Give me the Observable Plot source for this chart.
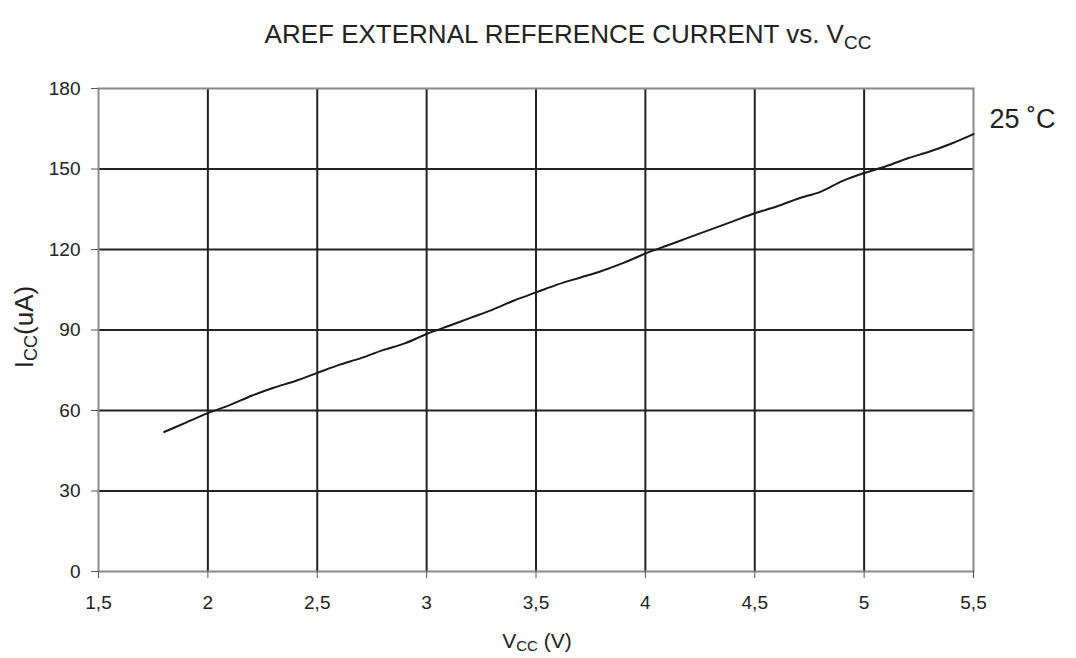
<!DOCTYPE html>
<html>
<head>
<meta charset="utf-8">
<script src="https://cdn.jsdelivr.net/npm/d3@7"></script>
<script src="https://cdn.jsdelivr.net/npm/@observablehq/plot@0.6"></script>
<style>
  html, body { margin: 0; padding: 0; background: #fff; }
  #title { height: 60px; width: 1076px; position: relative; font-family: "Liberation Sans", Arial, sans-serif; color: #222; }
  #title .t { position: absolute; left: 30px; width: 1076px; text-align: center; top: 19px; font-size: 26px; line-height: 30px; white-space: nowrap; }
  #title sub { font-size: 19px; vertical-align: -6px; line-height: 0; }
</style>
</head>
<body>
<div id="title"><div class="t">AREF EXTERNAL REFERENCE CURRENT vs. V<sub>CC</sub></div></div>
<div id="chart"></div>
<script>
const vcc = [1.8,1.9,2.0,2.1,2.2,2.3,2.4,2.5,2.6,2.7,2.8,2.9,3.0,3.1,3.2,3.3,3.4,3.5,3.6,3.7,3.8,3.9,4.0,4.1,4.2,4.3,4.4,4.5,4.6,4.7,4.8,4.9,5.0,5.1,5.2,5.3,5.4,5.5];
const icc = [52,55.5,59,62,65.5,68.5,71,74,77,79.5,82.5,85,88.5,91.5,94.5,97.5,101,104,107,109.5,112,115,118.5,121.5,124.5,127.5,130.5,133.5,136,139,141.5,145.5,148.5,151,154,156.5,159.5,163];
const xTicks = [1.5,2,2.5,3,3.5,4,4.5,5,5.5];
const yTicks = [0,30,60,90,120,150,180];
const seriesLabel = ["25 ˚C"];

const data = vcc.map((v, i) => ({v, i: icc[i]}));
const fmt = d => String(d).replace(".", ",");
const last = data[data.length - 1];

const W = 1076, H = 598;
const plot = Plot.plot({
  width: W, height: H,
  marginLeft: 98, marginRight: 103, marginTop: 28, marginBottom: 87,
  style: {fontFamily: "'Liberation Sans', Arial, sans-serif", fontSize: "19px", color: "#222", background: "#fff"},
  x: {domain: [1.5, 5.5], ticks: xTicks, tickFormat: fmt, label: null},
  y: {domain: [0, 180], ticks: yTicks, label: null},
  marks: [
    Plot.ruleX(xTicks.slice(1, -1), {stroke: "#222", strokeWidth: 2}),
    Plot.ruleY(yTicks.slice(1, -1), {stroke: "#222", strokeWidth: 2}),
    Plot.frame({stroke: "#8a8a8a", strokeWidth: 2}),
    Plot.axisX({ticks: xTicks, tickFormat: fmt, tickSize: 7, tickPadding: 17, stroke: "#555"}),
    Plot.axisY({ticks: yTicks, tickSize: 7, tickPadding: 11, stroke: "#555"}),
    Plot.line(data, {x: "v", y: "i", stroke: "#1a1a1a", strokeWidth: 2, curve: "monotone-x"}),
    Plot.text(seriesLabel, {x: () => last.v, y: () => last.i, text: d => d, dx: 16, dy: -15, textAnchor: "start", fontSize: 27, fill: "#222"})
  ]
});
document.getElementById("chart").appendChild(plot);

const svg = d3.select(plot);
svg.selectAll('g[aria-label="x-axis tick label"], g[aria-label="y-axis tick label"]').attr("font-size", 19);

// axis labels with subscripts
const xl = svg.append("text")
  .attr("x", 537).attr("y", 648 - 60)
  .attr("text-anchor", "middle")
  .attr("font-size", 21).attr("fill", "#222");
xl.append("tspan").text("V");
xl.append("tspan").attr("font-size", 15).attr("dy", 3).text("CC");
xl.append("tspan").attr("dy", -3).text(" (V)");

const yl = svg.append("text")
  .attr("transform", `translate(33, ${327 - 60}) rotate(-90)`)
  .attr("text-anchor", "middle")
  .attr("font-size", 26).attr("fill", "#222");
yl.append("tspan").text("I");
yl.append("tspan").attr("font-size", 18).attr("dy", 4).text("CC");
yl.append("tspan").attr("dy", -4).text("(uA)");
</script>
</body>
</html>
